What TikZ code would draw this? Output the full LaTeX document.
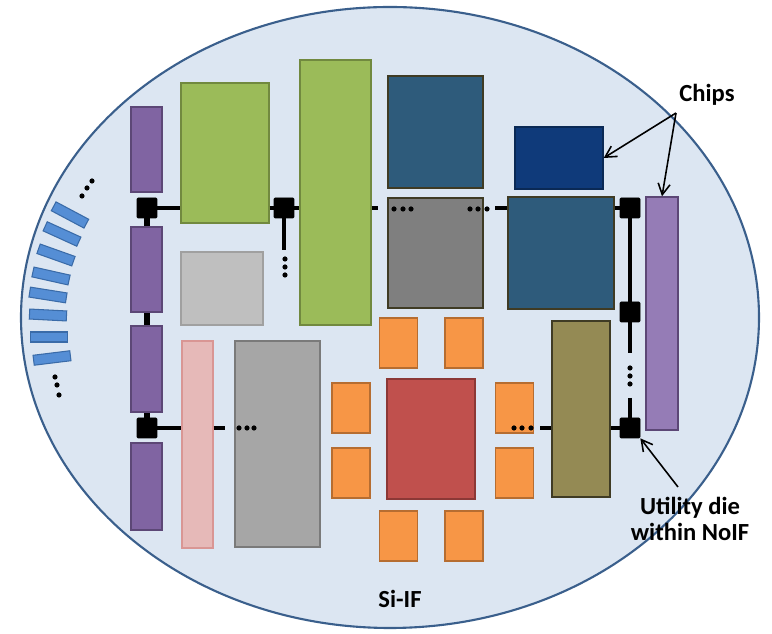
\documentclass[tikz,border=0pt]{standalone}
\usepackage{fontspec}
\setmainfont{Carlito}
\usepackage{tikz}
\usetikzlibrary{positioning,shapes,arrows.meta}
\definecolor{waferfill}{HTML}{DCE6F2}
\definecolor{waferedge}{HTML}{3A5F8C}
\definecolor{Purple}{HTML}{8064A2}
\definecolor{PurpleEdge}{HTML}{5C4776}
\definecolor{Lilac}{HTML}{957CB6}
\definecolor{Green}{HTML}{9BBB59}
\definecolor{GreenEdge}{HTML}{71893F}
\definecolor{LightGray}{HTML}{BFBFBF}
\definecolor{LightGrayEdge}{HTML}{A0A0A0}
\definecolor{Rose}{HTML}{E6B9B8}
\definecolor{RoseEdge}{HTML}{D99694}
\definecolor{MidGray}{HTML}{A6A6A6}
\definecolor{MidGrayEdge}{HTML}{7A7A7A}
\definecolor{DarkGray}{HTML}{7F7F7F}
\definecolor{Teal}{HTML}{2E5B7B}
\definecolor{Navy}{HTML}{0F3A7A}
\definecolor{Olive}{HTML}{948A54}
\definecolor{DarkEdge}{HTML}{3F3B24}
\definecolor{Orange}{HTML}{F79646}
\definecolor{OrangeEdge}{HTML}{B66D31}
\definecolor{Brick}{HTML}{C0504D}
\definecolor{BrickEdge}{HTML}{8C3836}
\definecolor{Slot}{HTML}{558ED5}
\definecolor{SlotEdge}{HTML}{3A6BA8}
\tikzstyle{wafer}=[%
      ellipse, draw=waferedge, line width=1.2pt, fill=waferfill, inner sep=0pt
]
\tikzstyle{chip}=[%
      rectangle, line width=0.8pt, inner sep=0pt
]
\tikzstyle{udie}=[%
      rectangle, draw=black, fill=black, rounded corners=0.6pt,
      minimum size=0.4cm, inner sep=0pt
]
\tikzstyle{slot}=[%
      rectangle, draw=SlotEdge, fill=Slot, line width=0.6pt,
      minimum width=0.74cm, minimum height=0.2cm, inner sep=0pt
]
\tikzstyle{bus}=[line width=2.8pt, black]
\tikzstyle{note}=[font=\fontsize{14}{15.3}\selectfont\bfseries, align=center, inner sep=0pt]
\tikzset{sz/.style 2 args={minimum width=#1*0.02cm, minimum height=#2*0.02cm}}

\begin{document}
\begin{tikzpicture}[x=0.02cm, y=-0.02cm,
    -{Straight Barb[length=2.2mm,width=2.4mm]}
  ]
    \useasboundingbox (0,0) rectangle (772,634);
    \node[wafer, sz={738}{621}] (sif) at (390,317.5) {};

    \foreach \x/\y/\a [count=\i] in {70/215/-28, 62/234/-24.5, 56/255/-19.6, 51/276/-12.6,
        48/295/-9, 48/315/-3, 49/337/0, 52/358/7}
      \node[slot, rotate=\a] (s\i) at (\x,\y) {};

    \node[udie] (ua) at (147,208) {};
    \node[udie] (ub) at (284,208) {};
    \node[udie] (uc) at (147,428) {};
    \node[udie] (ud) at (630,208) {};
    \node[udie] (ue) at (630,312) {};
    \node[udie] (uf) at (630,428) {};
    \draw[bus, -, line width=3.8pt] (ua) -- (uc);

    \node[chip, fill=Purple, draw=PurpleEdge, sz={31}{85}] (pa) at (146.5,149.5) {};
    \node[chip, fill=Purple, draw=PurpleEdge, sz={31}{85}] (pb) at (146.5,269.5) {};
    \node[chip, fill=Purple, draw=PurpleEdge, sz={31}{86}] (pc) at (146.5,369) {};
    \node[chip, fill=Purple, draw=PurpleEdge, sz={31}{87}] (pd) at (146.5,486.5) {};
    \node[chip, fill=Green, draw=GreenEdge, sz={88}{140}] (ga) at (225,153) {};
    \node[chip, fill=Green, draw=GreenEdge, sz={71}{265}] (gb) at (335.5,192.5) {};
    \node[chip, fill=LightGray, draw=LightGrayEdge, sz={82}{73}] (lg) at (222,288.5) {};
    \node[chip, fill=Rose, draw=RoseEdge, sz={31}{207}] (pk) at (197.5,444.5) {};
    \node[chip, fill=MidGray, draw=MidGrayEdge, sz={85}{206}] (gy) at (277.5,444) {};
    \node[chip, fill=Teal, draw=DarkEdge, sz={95}{112}] (ta) at (435.5,132) {};
    \node[chip, fill=DarkGray, draw=DarkEdge, sz={95}{110}] (gm) at (435.5,253) {};
    \node[chip, fill=Navy, draw=Navy!70!black, sz={88}{62}] (nv) at (559,158) {};
    \node[chip, fill=Teal, draw=DarkEdge, sz={106}{112}] (tb) at (561,253) {};
    \node[chip, fill=Lilac, draw=PurpleEdge, sz={32}{233}] (pe) at (662,313.5) {};
    \node[chip, fill=Olive, draw=DarkEdge, sz={58}{176}] (ol) at (581,409) {};
    \node[chip, fill=Brick, draw=BrickEdge, sz={88}{120}] (rd) at (431,439) {};
    \foreach \x/\y [count=\i] in {398.5/343, 464/343, 351/408, 351/473,
        514.5/408, 514.5/473, 398.5/536, 464/536}
      \node[chip, fill=Orange, draw=OrangeEdge, sz={38}{50}] (o\i) at (\x,\y) {};

    \coordinate (bd) at (284,250);
    \coordinate (ba) at (378,208);
    \coordinate (bb) at (495,208);
    \coordinate (be) at (630,353);
    \coordinate (bf) at (630,398);
    \coordinate (bg) at (540,428);
    \coordinate (bh) at (225,428);
    \path[bus, -] (ua) edge (ua -| ga.west)
          (ga.east |- ub) edge (ub -| gb.west)
          (ub) edge (bd)
          (gb.east |- ub) edge (ba)
          (bb) edge (tb.west |- ud)
          (tb.east |- ud) edge (ud)
          (ud) edge (be)
          (bf) edge (uf)
          (uf) edge (uf -| ol.east)
          (ol.west |- uf) edge (bg)
          (uc) edge (uc -| pk.west)
          (pk.east |- uc) edge (bh)
    ;
    \foreach \x/\y in {92/181, 87/188, 82/196, 55/377, 57/385, 59/395,
        285/259, 285/267, 285/275, 394/209, 403/209, 411/209,
        470/209, 478/209, 487/209, 239/428, 247/428, 254/428,
        514/428, 522/428, 531/428, 630/368, 630/376, 630/384}
      \fill (\x,\y) circle [radius=0.052cm];

    \node[note] (chips) at (707,95) {Chips};
    \coordinate (cp) at (676,113);
    \node[note] (util) at (690,519) {Utility die\\within NoIF};
    \coordinate (up) at (678,487);
    \node[note] (si) at (400,599) {Si-IF};

    \path[line width=0.9pt] (cp) edge (nv.east)
          (cp) edge (pe.north)
          (up) edge (uf.south east)
    ;
  \end{tikzpicture}
\end{document}
